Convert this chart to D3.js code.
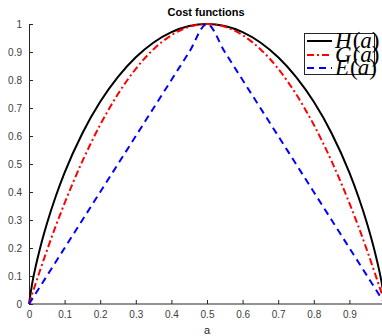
<!DOCTYPE html>
<html>
<head>
<meta charset="utf-8">
<script src="https://cdn.jsdelivr.net/npm/d3@7"></script>
<style>
  body { margin: 0; background: #fff; }
  svg { display: block; }
</style>
</head>
<body>
<div id="chart"></div>
<script>
// values
var aVals = [0, 0.01, 0.02, 0.03, 0.05, 0.075, 0.1, 0.15, 0.2, 0.25, 0.3, 0.35, 0.4, 0.45, 0.5,
             0.55, 0.6, 0.65, 0.7, 0.75, 0.8, 0.85, 0.9, 0.925, 0.95, 0.97, 0.98, 0.99, 1];
var hVals = [0, 0.081, 0.141, 0.194, 0.286, 0.384, 0.469, 0.610, 0.722, 0.811, 0.881, 0.934, 0.971, 0.993, 1,
             0.993, 0.971, 0.934, 0.881, 0.811, 0.722, 0.610, 0.469, 0.384, 0.286, 0.194, 0.141, 0.081, 0];
var gVals = [0, 0.040, 0.078, 0.116, 0.19, 0.278, 0.36, 0.51, 0.64, 0.75, 0.84, 0.91, 0.96, 0.99, 1,
             0.99, 0.96, 0.91, 0.84, 0.75, 0.64, 0.51, 0.36, 0.278, 0.19, 0.116, 0.078, 0.040, 0];
var eVals = [0, 0.02, 0.04, 0.06, 0.1, 0.15, 0.2, 0.3, 0.4, 0.5, 0.6, 0.7, 0.8, 0.9, 1,
             0.9, 0.8, 0.7, 0.6, 0.5, 0.4, 0.3, 0.2, 0.15, 0.1, 0.06, 0.04, 0.02, 0];
var xTicks = [0, 0.1, 0.2, 0.3, 0.4, 0.5, 0.6, 0.7, 0.8, 0.9];
var yTicks = [0, 0.1, 0.2, 0.3, 0.4, 0.5, 0.6, 0.7, 0.8, 0.9, 1];
var legendNames = ["H", "G", "E"];

var series = [
  {name: "H", vals: hVals, color: "#000", dash: null},
  {name: "G", vals: gVals, color: "#ff0000", dash: "7,3,2,3"},
  {name: "E", vals: eVals, color: "#0000ff", dash: "7,5"}
];

var W = 382, H = 336;
var svg = d3.select("#chart").append("svg").attr("width", W).attr("height", H);

var x = d3.scaleLinear().domain([0, 1]).range([29, 385]);
var y = d3.scaleLinear().domain([0, 1]).range([304, 24]);
var axisCol = "#262626";

// axes, ticks pointing inward like matlab
var xa = svg.append("g").attr("transform", "translate(0,304)")
  .call(d3.axisBottom(x).tickValues(xTicks).tickSize(-4).tickPadding(7).tickFormat(d3.format("")));
var ya = svg.append("g").attr("transform", "translate(29,0)")
  .call(d3.axisLeft(y).tickValues(yTicks).tickSize(-4).tickPadding(7).tickFormat(d3.format("")));
[xa, ya].forEach(function(g) {
  g.select(".domain").attr("stroke", axisCol).attr("stroke-width", 1);
  g.selectAll(".tick line").attr("stroke", axisCol);
  g.selectAll("text").attr("fill", "#404040").style("font-family", "Liberation Sans, Arial, sans-serif").style("font-size", "10px");
});
xa.select(".domain").attr("d", "M29,0H" + W);

var line = d3.line().x(function(d, i) { return x(aVals[i]); }).y(function(d) { return y(d); })
  .curve(d3.curveMonotoneX);

series.forEach(function(s) {
  svg.append("path").datum(s.vals)
    .attr("d", line)
    .attr("fill", "none")
    .attr("stroke", s.color)
    .attr("stroke-width", 2)
    .attr("stroke-dasharray", s.dash);
});

// title + label
svg.append("text").attr("x", 206).attr("y", 16).attr("text-anchor", "middle")
  .style("font-family", "Liberation Sans, Arial, sans-serif").style("font-size", "11px").style("font-weight", "bold")
  .attr("fill", "#000").text("Cost functions");
svg.append("text").attr("x", 207).attr("y", 334).attr("text-anchor", "middle")
  .style("font-family", "Liberation Sans, Arial, sans-serif").style("font-size", "11px")
  .attr("fill", "#262626").text("a");

// legend (latex text overflows the box, as in the original)
var lg = svg.append("g");
lg.append("rect").attr("x", 304.5).attr("y", 33.5).attr("width", 70).attr("height", 41)
  .attr("fill", "#fff").attr("stroke", axisCol).attr("stroke-width", 1);
var rowY = [41, 55, 68];
series.forEach(function(s, i) {
  lg.append("line").attr("x1", 307).attr("x2", 332).attr("y1", rowY[i]).attr("y2", rowY[i])
    .attr("stroke", s.color).attr("stroke-width", 2).attr("stroke-dasharray", s.dash);
  var t = lg.append("text").attr("x", 335).attr("y", rowY[i] + 7)
    .style("font-family", "Liberation Serif, Times New Roman, serif").style("font-size", "23px").attr("fill", "#000");
  t.append("tspan").style("font-style", "italic").text(legendNames[i]);
  t.append("tspan").attr("dx", 1).text("(");
  t.append("tspan").style("font-style", "italic").text("a");
  t.append("tspan").text(")");
});
</script>
</body>
</html>
